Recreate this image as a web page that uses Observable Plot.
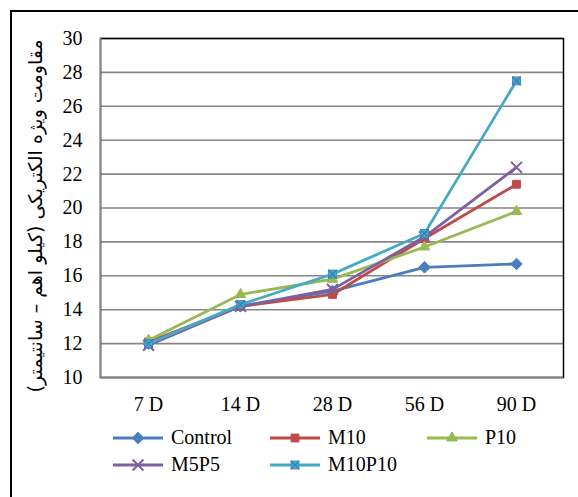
<!DOCTYPE html>
<html>
<head>
<meta charset="utf-8">
<script src="https://cdn.jsdelivr.net/npm/d3@7"></script>
<script src="https://cdn.jsdelivr.net/npm/@observablehq/plot@0.6"></script>
<style>
  html, body { margin: 0; padding: 0; background: #fff; }
  #wrap { position: relative; width: 578px; height: 497px; overflow: hidden; background: #fff; font-family: "Liberation Serif", "DejaVu Serif", serif; color: #000; }
  #border { position: absolute; left: 10px; top: 10px; width: 640px; height: 640px; border: 2px solid #000; box-sizing: border-box; }
  #chart { position: absolute; left: 0; top: 0; }
  #ylabel { position: absolute; left: 35px; top: 216px; transform: translate(-50%, -50%) rotate(-90deg); white-space: nowrap; font-family: "DejaVu Sans", sans-serif; font-size: 19px; direction: rtl; }
  #legend { position: absolute; left: 113px; top: 424px; display: grid; grid-template-columns: 157px 157px 157px; grid-auto-rows: 27px; font-size: 20px; }
  .item { display: flex; align-items: center; white-space: nowrap; }
  .item svg { margin-right: 8px; }
</style>
</head>
<body>
<div id="wrap">
  <div id="border"></div>
  <div id="chart"></div>
  <div id="ylabel">مقاومت ویژه الکتریکی (کیلو اهم – سانتیمتر)</div>
  <div id="legend"></div>
</div>
<script>
const days = ["7 D", "14 D", "28 D", "56 D", "90 D"];
const seriesNames = ["Control", "M10", "P10", "M5P5", "M10P10"];
const control = [12.0, 14.2, 15.1, 16.5, 16.7];
const m10 = [12.1, 14.2, 14.9, 18.2, 21.4];
const p10 = [12.2, 14.9, 15.8, 17.7, 19.8];
const m5p5 = [11.9, 14.2, 15.2, 18.3, 22.4];
const m10p10 = [12.0, 14.3, 16.1, 18.5, 27.5];
const yTicks = [10, 12, 14, 16, 18, 20, 22, 24, 26, 28, 30];

const colors = ["#4A7EBB", "#BE4B48", "#98B954", "#7D60A0", "#46AAC5"];
const values = [control, m10, p10, m5p5, m10p10];
const styles = [
  {symbol: "diamond2", r: 5.2, fill: colors[0], stroke: colors[0]},
  {symbol: "square2", r: 5, fill: colors[1], stroke: colors[1]},
  {symbol: "triangle2", r: 5, fill: colors[2], stroke: colors[2]},
  {symbol: "times", r: 5, fill: "none", stroke: colors[3]},
  {symbol: "square2", r: 5, fill: "#4BACC6", stroke: "#3C8DC0"}
];

const tables = seriesNames.map((s, i) => days.map((d, j) => ({series: s, day: d, value: values[i][j]})));

const marks = [
  Plot.ruleY(yTicks, {stroke: "#868686", strokeWidth: 1.6}),
  Plot.frame({stroke: "#000", strokeWidth: 1.5}),
  Plot.ruleY([10], {stroke: "#868686", strokeWidth: 1.6}),
  Plot.frame({anchor: "left", stroke: "#868686", strokeWidth: 1.6})
];
tables.forEach((t, i) => {
  marks.push(Plot.line(t, {x: "day", y: "value", stroke: colors[i], strokeWidth: 2.8}));
  const st = styles[i];
  marks.push(Plot.dot(t, {x: "day", y: "value", symbol: st.symbol, r: st.r, fill: st.fill, stroke: st.stroke, strokeWidth: st.symbol === "times" ? 2 : 1}));
  if (i === 4) {
    marks.push(Plot.dot(t, {x: "day", y: "value", symbol: "times", r: 4, stroke: "#3A7DBF", strokeWidth: 1.3}));
  }
});

const chart = Plot.plot({
  width: 578,
  height: 420,
  marginLeft: 100,
  marginRight: 15,
  marginTop: 38,
  marginBottom: 43,
  style: {fontFamily: "'Liberation Serif', 'DejaVu Serif', serif", fontSize: "20px", color: "#000", background: "transparent"},
  x: {type: "point", domain: days, padding: 0.5, tickSize: 0, tickPadding: 19, label: null},
  y: {domain: [10, 30], ticks: yTicks, tickSize: 0, tickPadding: 18, label: null},
  marks
});
document.getElementById("chart").appendChild(chart);

// legend
const legend = d3.select("#legend");
seriesNames.forEach((name, i) => {
  const item = legend.append("div").attr("class", "item");
  const svg = item.append("svg").attr("width", 50).attr("height", 16);
  svg.append("line").attr("x1", 0).attr("x2", 50).attr("y1", 8).attr("y2", 8).attr("stroke", colors[i]).attr("stroke-width", 2.8);
  const st = styles[i];
  const symMap = {diamond2: d3.symbolDiamond2, square2: d3.symbolSquare2, triangle2: d3.symbolTriangle2, times: d3.symbolTimes};
  svg.append("path").attr("transform", "translate(25,8)")
    .attr("d", d3.symbol(symMap[st.symbol], st.r * st.r * Math.PI)())
    .attr("fill", st.fill).attr("stroke", st.stroke).attr("stroke-width", st.symbol === "times" ? 2 : 1);
  if (i === 4) {
    svg.append("path").attr("transform", "translate(25,8)")
      .attr("d", d3.symbol(d3.symbolTimes, 16 * Math.PI)())
      .attr("fill", "none").attr("stroke", "#3A7DBF").attr("stroke-width", 1.3);
  }
  item.append("span").text(name);
});
</script>
</body>
</html>
